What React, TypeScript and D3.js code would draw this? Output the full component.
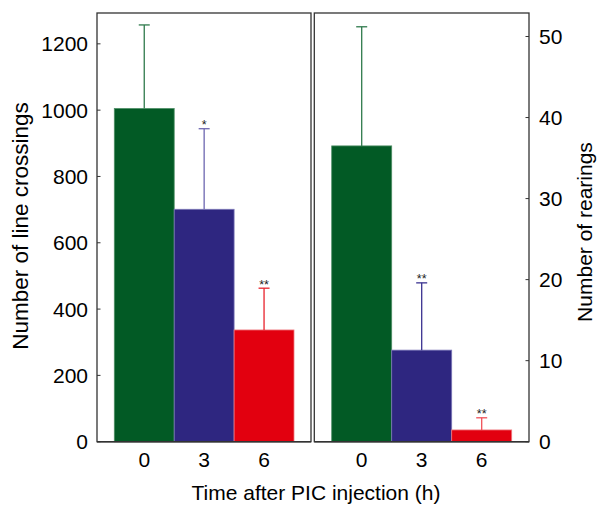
import React from "react";
import * as d3 from "d3";

const timeCategories = ["0", "3", "6"];
const crossingsMean = [1005, 701, 337];
const crossingsErr = [252, 243, 126];
const crossingsSig = ["", "*", "**"];
const rearingsMean = [36.5, 11.3, 1.45];
const rearingsErr = [14.7, 8.3, 1.5];
const rearingsSig = ["", "**", "**"];
const crossingsTicks = [0, 200, 400, 600, 800, 1000, 1200];
const rearingsTicks = [0, 10, 20, 30, 40, 50];

const barColors = ["#025a25", "#2e2680", "#e2000f"];
const edgeColors = ["#4f8f66", "#7d78b8", "#f07a80"];
const errColors = ["#2f7a4c", "#6d66b0", "#e8222c"];
const errColorsRight = ["#2f7a4c", "#3a3290", "#f05058"];

const W = 597;
const H = 505;
const top = 13;
const bottom = 441.7;
const font = "'Liberation Sans', Arial, Helvetica, sans-serif";

export default function App() {
  const yL = d3.scaleLinear().domain([0, 1293]).range([bottom, top]);
  const yR = d3.scaleLinear().domain([0, 52.9]).range([bottom, top]);
  const xL = d3.scaleBand().domain(timeCategories).range([114.3, 294]).paddingInner(0);
  const xR = d3.scaleBand().domain(timeCategories).range([331.7, 511.7]).paddingInner(0);

  const panel = (
    x: d3.ScaleBand<string>,
    y: d3.ScaleLinear<number, number>,
    means: number[],
    errs: number[],
    sig: string[],
    ec: string[]
  ) =>
    timeCategories.map((c, i) => {
      const x0 = x(c)!;
      const bw = x.bandwidth();
      const cx = x0 + bw / 2;
      const yTop = y(means[i]);
      const yErr = y(means[i] + errs[i]);
      return (
        <g key={c}>
          <rect x={x0} y={yTop} width={bw} height={bottom - yTop} fill={barColors[i]} stroke={edgeColors[i]} strokeWidth={0.8} />
          <line x1={cx} x2={cx} y1={yTop} y2={yErr} stroke={ec[i]} strokeWidth={1.3} />
          <line x1={cx - 5.5} x2={cx + 5.5} y1={yErr} y2={yErr} stroke={ec[i]} strokeWidth={1.3} />
          {sig[i] && (
            <text x={cx} y={yErr + 0.5} textAnchor="middle" fontSize={12.5} fill="#222" fontFamily={font}>
              {sig[i]}
            </text>
          )}
        </g>
      );
    });

  return (
    <svg width={W} height={H} style={{ position: "absolute", left: 0, top: 0 }}>
      <rect width={W} height={H} fill="#fff" />
      <rect x={97} y={top} width={214} height={bottom - top} fill="none" stroke="#333" strokeWidth={1.3} />
      <rect x={314.3} y={top} width={214.7} height={bottom - top} fill="none" stroke="#333" strokeWidth={1.3} />
      {panel(xL, yL, crossingsMean, crossingsErr, crossingsSig, errColors)}
      {panel(xR, yR, rearingsMean, rearingsErr, rearingsSig, errColorsRight)}
      <line x1={97} x2={311} y1={bottom} y2={bottom} stroke="#333" strokeWidth={1.5} />
      <line x1={314.3} x2={529} y1={bottom} y2={bottom} stroke="#333" strokeWidth={1.5} />
      {crossingsTicks.map((t) => (
        <g key={t}>
          <line x1={97} x2={100.5} y1={yL(t)} y2={yL(t)} stroke="#333" strokeWidth={1} />
          <text x={88} y={yL(t)} dy="0.36em" textAnchor="end" fontSize={21} fontFamily={font} fill="#000">
            {t}
          </text>
        </g>
      ))}
      {rearingsTicks.map((t) => (
        <g key={t}>
          <line x1={525.5} x2={529} y1={yR(t)} y2={yR(t)} stroke="#333" strokeWidth={1} />
          <text x={539} y={yR(t)} dy="0.36em" textAnchor="start" fontSize={21} fontFamily={font} fill="#000">
            {t}
          </text>
        </g>
      ))}
      {timeCategories.map((c) => (
        <g key={c}>
          <text x={xL(c)! + xL.bandwidth() / 2} y={467} textAnchor="middle" fontSize={21} fontFamily={font}>
            {c}
          </text>
          <text x={xR(c)! + xR.bandwidth() / 2} y={467} textAnchor="middle" fontSize={21} fontFamily={font}>
            {c}
          </text>
        </g>
      ))}
      <text x={316} y={500} textAnchor="middle" fontSize={21} fontFamily={font}>
        Time after PIC injection (h)
      </text>
      <text transform="translate(28,226) rotate(-90)" textAnchor="middle" fontSize={22.5} fontFamily={font}>
        Number of line crossings
      </text>
      <text transform="translate(592,232) rotate(-90)" textAnchor="middle" fontSize={21} fontFamily={font}>
        Number of rearings
      </text>
    </svg>
  );
}
